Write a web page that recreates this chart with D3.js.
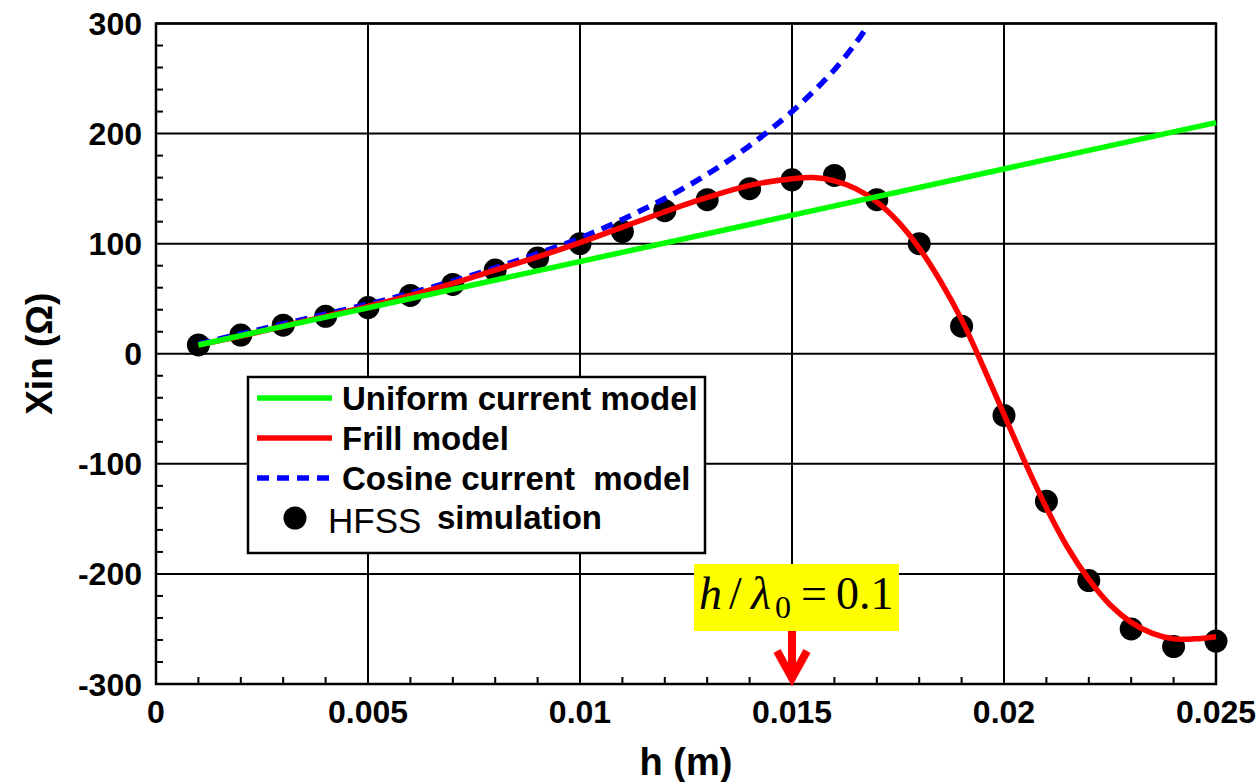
<!DOCTYPE html>
<html>
<head>
<meta charset="utf-8">
<script src="https://cdn.jsdelivr.net/npm/d3@7/dist/d3.min.js"></script>
<style>
  html, body { margin: 0; padding: 0; background: #fff; }
  svg { display: block; font-family: "Liberation Sans", Arial, sans-serif; }
</style>
</head>
<body>
<svg id="chart" width="1260" height="782"></svg>
<script>
// ticks
const xTicks = [0, 0.005, 0.01, 0.015, 0.02, 0.025];
const xTickLabels = ["0", "0.005", "0.01", "0.015", "0.02", "0.025"];
const yTicks = [300, 200, 100, 0, -100, -200, -300];
const yTickLabels = ["300", "200", "100", "0", "-100", "-200", "-300"];

// HFSS simulation points
const hfssH = [0.001, 0.002, 0.003, 0.004, 0.005, 0.006, 0.007, 0.008, 0.009, 0.010, 0.011, 0.012, 0.013,
  0.014, 0.015, 0.016, 0.017, 0.018, 0.019, 0.020, 0.021, 0.022, 0.023, 0.024, 0.025];
const hfssX = [8, 17, 26, 34, 42, 53, 63, 76, 87, 100, 111, 130, 140,
  150, 158, 162, 140, 100, 25, -56, -134, -206, -250, -266, -261];

// frill model
const frillH = [0.001, 0.002, 0.003, 0.004, 0.005, 0.006, 0.007, 0.008, 0.009, 0.010, 0.011, 0.012, 0.013,
  0.014, 0.015, 0.0155, 0.016, 0.0165, 0.017, 0.0175, 0.018, 0.0185, 0.019, 0.0195, 0.020, 0.0205,
  0.021, 0.0215, 0.022, 0.0225, 0.023, 0.0235, 0.024, 0.0245, 0.025];
const frillX = [8, 16, 25, 34, 43, 53, 64, 76, 88, 101, 115, 129, 142,
  153, 159, 160, 157, 150, 138, 120, 96, 66, 31, -11, -55, -99,
  -140, -176, -205, -228, -244, -254, -259, -259, -257];

// uniform current model (straight line)
const uniformH = [0.001, 0.025];
const uniformX = [8, 210];

// cosine current model
const cosineH = [0.001, 0.002, 0.003, 0.004, 0.005, 0.006, 0.007, 0.008, 0.009, 0.010, 0.011, 0.012,
  0.013, 0.014, 0.015, 0.0155, 0.016, 0.0165, 0.0167];
const cosineX = [9, 18, 27, 36, 45, 55, 66, 78, 91, 105, 122, 141,
  163, 189, 220, 238, 258, 282, 293];

const svg = d3.select("#chart");
const plot = { left: 156, right: 1216, top: 23.5, bottom: 684 };

const x = d3.scaleLinear().domain([0, 0.025]).range([plot.left, plot.right]);
const y = d3.scaleLinear().domain([-300, 300]).range([plot.bottom, plot.top]);

// grid lines
svg.append("g").selectAll("line.vg").data(xTicks).join("line")
  .attr("x1", d => x(d)).attr("x2", d => x(d))
  .attr("y1", plot.top).attr("y2", plot.bottom)
  .attr("stroke", "#000").attr("stroke-width", 2);
svg.append("g").selectAll("line.hg").data(yTicks).join("line")
  .attr("x1", plot.left).attr("x2", plot.right)
  .attr("y1", d => y(d)).attr("y2", d => y(d))
  .attr("stroke", "#000").attr("stroke-width", 2);

// minor ticks (inside)
const xMinor = d3.range(1, 25).map(i => i * 0.001);
const yMinor = d3.range(-14, 15).map(i => i * 20).filter(v => v % 100 !== 0);
svg.append("g").selectAll("line").data(xMinor).join("line")
  .attr("x1", d => x(d)).attr("x2", d => x(d))
  .attr("y1", plot.bottom).attr("y2", plot.bottom - 7)
  .attr("stroke", "#000").attr("stroke-width", 2);
svg.append("g").selectAll("line").data(yMinor).join("line")
  .attr("x1", plot.left).attr("x2", plot.left + 7)
  .attr("y1", d => y(d)).attr("y2", d => y(d))
  .attr("stroke", "#000").attr("stroke-width", 2);

// frame
svg.append("rect")
  .attr("x", plot.left).attr("y", plot.top)
  .attr("width", plot.right - plot.left).attr("height", plot.bottom - plot.top)
  .attr("fill", "none").attr("stroke", "#000").attr("stroke-width", 2.5);

// tick labels
svg.append("g").selectAll("text").data(xTicks).join("text")
  .attr("x", d => x(d)).attr("y", 723)
  .attr("text-anchor", "middle")
  .attr("font-size", 32).attr("font-weight", "bold")
  .text((d, i) => xTickLabels[i]);
svg.append("g").selectAll("text").data(yTicks).join("text")
  .attr("x", 142).attr("y", d => y(d) + 11.5)
  .attr("text-anchor", "end")
  .attr("font-size", 32).attr("font-weight", "bold")
  .text((d, i) => yTickLabels[i]);

// axis titles
svg.append("text")
  .attr("x", (plot.left + plot.right) / 2).attr("y", 775)
  .attr("text-anchor", "middle")
  .attr("font-size", 38).attr("font-weight", "bold")
  .text("h (m)");
svg.append("text")
  .attr("transform", `translate(52,${(plot.top + plot.bottom) / 2}) rotate(-90)`)
  .attr("text-anchor", "middle")
  .attr("font-size", 37).attr("font-weight", "bold")
  .text("Xin (\u03A9)");

// series
const line = d3.line().x(d => x(d[0])).y(d => y(d[1]));
const smooth = d3.line().x(d => x(d[0])).y(d => y(d[1])).curve(d3.curveCatmullRom);

svg.append("g").selectAll("circle").data(d3.zip(hfssH, hfssX)).join("circle")
  .attr("cx", d => x(d[0])).attr("cy", d => y(d[1])).attr("r", 11.5)
  .attr("fill", "#000");

svg.append("path").datum(d3.zip(cosineH, cosineX))
  .attr("d", smooth).attr("fill", "none")
  .attr("stroke", "#0000ff").attr("stroke-width", 5.5)
  .attr("stroke-dasharray", "12,8");

svg.append("path").datum(d3.zip(frillH, frillX))
  .attr("d", smooth)
  .attr("fill", "none").attr("stroke", "#ff0000").attr("stroke-width", 5.5);

svg.append("path").datum(d3.zip(uniformH, uniformX))
  .attr("d", line).attr("fill", "none")
  .attr("stroke", "#00ff00").attr("stroke-width", 5.5);

// legend
const legend = svg.append("g");
legend.append("rect")
  .attr("x", 248).attr("y", 377).attr("width", 457).attr("height", 176)
  .attr("fill", "#fff").attr("stroke", "#000").attr("stroke-width", 2.5);
const legendItems = [
  { label: "Uniform current model", color: "#00ff00", dash: null },
  { label: "Frill model", color: "#ff0000", dash: null },
  { label: "Cosine current  model", color: "#0000ff", dash: "12,8" }
];
legendItems.forEach((it, i) => {
  const cy = 398 + i * 40;
  legend.append("line")
    .attr("x1", 257).attr("x2", 332).attr("y1", cy).attr("y2", cy)
    .attr("stroke", it.color).attr("stroke-width", 5.5)
    .attr("stroke-dasharray", it.dash);
  legend.append("text")
    .attr("x", 342).attr("y", cy + 11.5)
    .attr("font-size", 33).attr("font-weight", "bold")
    .style("white-space", "pre")
    .text(it.label);
});
legend.append("circle").attr("cx", 295).attr("cy", 518).attr("r", 11.5).attr("fill", "#000");
legend.append("text")
  .attr("x", 328).attr("y", 533)
  .attr("font-size", 35)
  .text("HFSS");
legend.append("text")
  .attr("x", 437).attr("y", 529)
  .attr("font-size", 33).attr("font-weight", "bold")
  .text("simulation");

// annotation h / lambda0 = 0.1
const ax = x(0.015);
const ann = svg.append("g");
ann.append("rect")
  .attr("x", 694).attr("y", 564).attr("width", 205).attr("height", 67)
  .attr("fill", "#ffff00");
const annText = ann.append("text")
  .attr("y", 609)
  .attr("font-family", "'Liberation Serif', 'Times New Roman', serif")
  .attr("font-size", 46);
annText.append("tspan").attr("x", 699).attr("font-style", "italic").text("h");
annText.append("tspan").attr("x", 729).text("/");
annText.append("tspan").attr("x", 751).attr("font-style", "italic").text("\u03BB");
annText.append("tspan").attr("x", 775).attr("dy", 9).attr("font-size", 32).text("0");
annText.append("tspan").attr("x", 801).attr("dy", -9).text("=");
annText.append("tspan").attr("x", 836).text("0.1");

ann.append("path")
  .attr("d", `M${ax},631 L${ax},680`)
  .attr("stroke", "#ff0000").attr("stroke-width", 8).attr("fill", "none");
ann.append("path")
  .attr("d", `M${ax - 15},651 L${ax},678 L${ax + 15},651`)
  .attr("stroke", "#ff0000").attr("stroke-width", 8).attr("fill", "none")
  .attr("stroke-linejoin", "miter");
</script>
</body>
</html>
